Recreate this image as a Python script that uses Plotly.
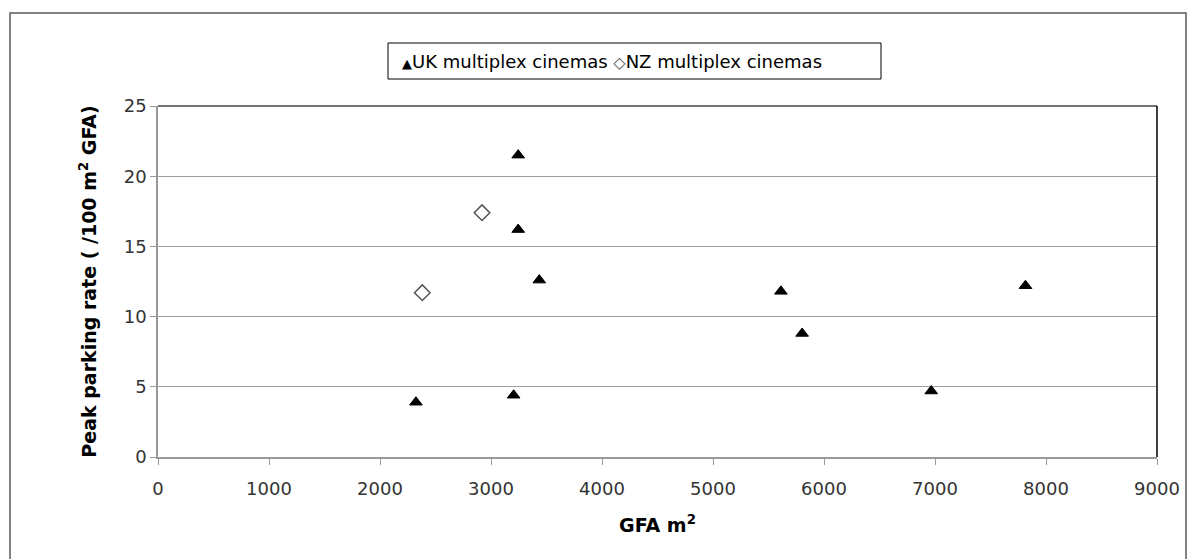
import plotly.graph_objects as go

# Multiplex cinema survey: gross floor area vs peak parking rate
uk_gfa = [2324, 3245, 3245, 3435, 3204, 5612, 5803, 6966, 7815]
uk_rate = [3.9, 21.5, 16.2, 12.6, 4.4, 11.8, 8.8, 4.7, 12.2]

nz_gfa = [2919, 2381]
nz_rate = [17.4, 11.7]

uk_name = "UK multiplex cinemas"
nz_name = "NZ multiplex cinemas"

x_ticks = [0, 1000, 2000, 3000, 4000, 5000, 6000, 7000, 8000, 9000]
y_ticks = [0, 5, 10, 15, 20, 25]

FONT = "DejaVu Sans, Verdana, sans-serif"

fig = go.Figure()
fig.add_trace(go.Scatter(
    x=uk_gfa, y=uk_rate, mode="markers", name=uk_name,
    marker=dict(symbol="triangle-up", size=11, color="black", line=dict(width=1, color="black")),
))
fig.add_trace(go.Scatter(
    x=nz_gfa, y=nz_rate, mode="markers", name=nz_name,
    marker=dict(symbol="diamond-open", size=12, color="#555555", line=dict(width=1.5, color="#555555")),
))

L, R, T, B = 158, 30, 106, 102
W, H = 1187, 559
pw, ph = W - L - R, H - T - B


def px_x(p):
    return (p - L) / pw


def px_y(p):
    return (H - B - p) / ph


shapes = [
    # outer frame
    dict(type="rect", xref="paper", yref="paper",
         x0=px_x(10), x1=px_x(1186), y0=px_y(575), y1=px_y(13),
         line=dict(color="#5a5a5a", width=1.5), fillcolor="rgba(0,0,0,0)", layer="below"),
    # top edge of plot area
    dict(type="line", xref="paper", yref="paper", x0=0, x1=1, y0=1, y1=1,
         line=dict(color="#444444", width=1.5)),
    # right edge of plot area
    dict(type="line", xref="paper", yref="paper", x0=1, x1=1, y0=0, y1=1,
         line=dict(color="black", width=1.5)),
    # legend box
    dict(type="rect", xref="paper", yref="paper",
         x0=px_x(388), x1=px_x(881), y0=px_y(79), y1=px_y(43),
         line=dict(color="black", width=1), fillcolor="white"),
]

legend_text = (
    '<span style="font-size:13px">▲</span>' + uk_name +
    ' <span style="font-size:16px;color:#555555">◇</span>' + nz_name
)

fig.update_layout(
    width=W, height=H,
    margin=dict(l=L, r=R, t=T, b=B),
    paper_bgcolor="white", plot_bgcolor="white",
    showlegend=False,
    font=dict(family=FONT, color="#333333", size=18),
    shapes=shapes,
    annotations=[dict(
        xref="paper", yref="paper", x=px_x(400), y=px_y(61),
        xanchor="left", yanchor="middle", showarrow=False,
        text=legend_text, font=dict(family=FONT, size=18, color="black"),
    )],
    xaxis=dict(
        range=[0, 9000], tickvals=x_ticks, ticktext=[str(v) for v in x_ticks],
        showgrid=False, zeroline=False,
        showline=True, linecolor="#999999", linewidth=1.5,
        ticks="outside", ticklen=6, tickcolor="#999999", tickwidth=1,
        ticklabelstandoff=9,
        tickfont=dict(family=FONT, size=18, color="#333333"),
        title=dict(text="<b>GFA m<sup>2</sup></b>", standoff=20,
                   font=dict(family=FONT, size=19, color="black")),
        automargin=False,
    ),
    yaxis=dict(
        range=[0, 25], tickvals=y_ticks, ticktext=[str(v) for v in y_ticks],
        showgrid=True, gridcolor="#a0a0a0", gridwidth=1.2,
        zeroline=False,
        showline=True, linecolor="#999999", linewidth=1.5,
        ticks="outside", ticklen=6, tickcolor="#999999", tickwidth=1,
        tickfont=dict(family=FONT, size=18, color="#333333"),
        title=dict(text="<b>Peak parking rate ( /100 m<sup>2</sup> GFA)</b>", standoff=22,
                   font=dict(family=FONT, size=19, color="black")),
        automargin=False,
    ),
)

fig.write_html("out.html")
